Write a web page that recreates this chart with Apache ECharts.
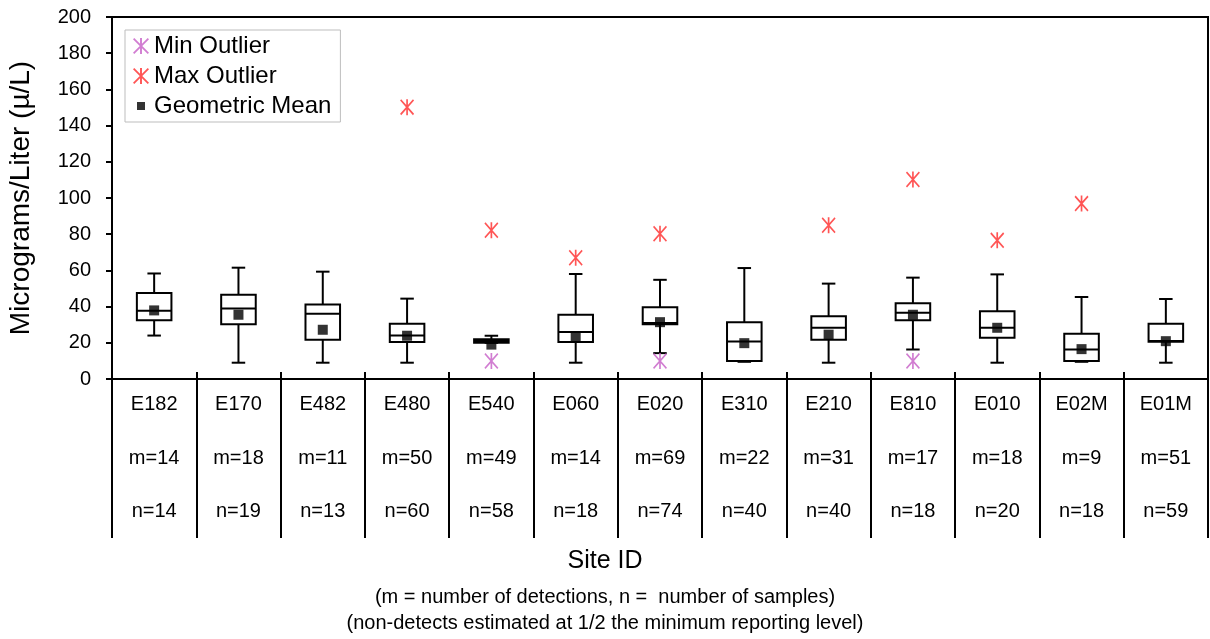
<!DOCTYPE html>
<html>
<head>
<meta charset="utf-8">
<script src="https://cdn.jsdelivr.net/npm/echarts@6/dist/echarts.min.js"></script>
<style>
html,body{margin:0;padding:0;background:#fff;}
#chart{width:1210px;height:639px;}
</style>
</head>
<body>
<div id="chart"></div>
<script>
// ---- data ----
var sites = ['E182','E170','E482','E480','E540','E060','E020','E310','E210','E810','E010','E02M','E01M'];
var detections = [14,18,11,50,49,14,69,22,31,17,18,9,51];
var samples = [14,19,13,60,58,18,74,40,40,18,20,18,59];
var whiskerLow  = [24, 9, 9, 9, 20, 9, 14.3, 9.5, 9, 16.3, 9, 9.5, 9];
var quartile1   = [32.4, 30.3, 21.7, 20.4, 20, 20.4, 30.3, 9.9, 21.7, 32.4, 22.8, 9.9, 20.6];
var medians     = [37.7, 39, 36.1, 24, 21, 25.9, 31, 20.7, 28.3, 36.6, 28.3, 16.3, 21];
var quartile3   = [47.5, 46.6, 41.2, 30.5, 22, 35.5, 39.7, 31.4, 34.6, 41.9, 37.5, 25, 30.5];
var whiskerHigh = [58.3, 61.5, 59.3, 44.4, 23.9, 58, 54.8, 61.3, 52.7, 56, 57.8, 45.3, 44.2];
var geoMean     = [37.9, 35.5, 27.2, 23.9, 19, 23.5, 31.4, 19.8, 24.5, 35.5, 28.3, 16.5, 20.9];
var maxOutlier  = [null, null, null, 150.2, 82.2, 67, 80.3, null, 84.9, 110.2, 76.6, 96.9, null];
var minOutlier  = [null, null, null, null, 9.9, null, 9.9, null, null, 9.9, null, null, null];
var yTicks = [0,20,40,60,80,100,120,140,160,180,200];

var FONT = '"Liberation Sans", Arial, sans-serif';
var ASTERISK = 'path://M44,0 L56,0 L56,100 L44,100 Z M0,8 L8,0 L100,92 L92,100 Z M92,0 L100,8 L8,100 L0,92 Z';
var SQUARE_ICON = 'path://M0,0 L0.01,0 L0,0.01 Z M25,25 L75,25 L75,75 L25,75 Z M100,100 L99.99,100 L100,99.99 Z';

var boxData = sites.map(function(s, i){
  return [i, whiskerLow[i], quartile1[i], medians[i], quartile3[i], whiskerHigh[i]];
});
function pts(arr){ var out=[]; arr.forEach(function(v,i){ if(v!==null) out.push([i,v]); }); return out; }

function renderBox(params, api){
  var i = api.value(0);
  var band = api.size([1,0])[0];
  var x = api.coord([i, 0])[0];
  var yLow = api.coord([i, api.value(1)])[1];
  var yQ1 = api.coord([i, api.value(2)])[1];
  var yMed = api.coord([i, api.value(3)])[1];
  var yQ3 = api.coord([i, api.value(4)])[1];
  var yHigh = api.coord([i, api.value(5)])[1];
  var hw = band * 0.205;
  var cw = band * 0.08;
  var st = {stroke:'#000', lineWidth:2, fill:null};
  return {
    type:'group',
    children:[
      {type:'line', shape:{x1:x,y1:yQ3,x2:x,y2:yHigh}, style:st},
      {type:'line', shape:{x1:x-cw,y1:yHigh,x2:x+cw,y2:yHigh}, style:st},
      {type:'line', shape:{x1:x,y1:yQ1,x2:x,y2:yLow}, style:st},
      {type:'line', shape:{x1:x-cw,y1:yLow,x2:x+cw,y2:yLow}, style:st},
      {type:'rect', shape:{x:x-hw,y:yQ3,width:hw*2,height:yQ1-yQ3}, style:{stroke:'#000',lineWidth:2,fill:'#fff'}},
      {type:'line', shape:{x1:x-hw,y1:yMed,x2:x+hw,y2:yMed}, style:st}
    ]
  };
}

var chart = echarts.init(document.getElementById('chart'));
chart.setOption({
  animation:false,
  backgroundColor:'#fff',
  textStyle:{fontFamily:FONT, color:'#000'},
  grid:{left:112, right:2, top:17, bottom:260, outerBoundsMode:'none', containLabel:false,
        show:true, borderColor:'#000', borderWidth:2, backgroundColor:'transparent'},
  title:{
    text:'Site ID',
    subtext:'(m = number of detections, n =  number of samples)\n(non-detects estimated at 1/2 the minimum reporting level)',
    left:'center', top:547, itemGap:9, padding:0,
    textStyle:{fontFamily:FONT, fontSize:25, fontWeight:'normal', color:'#000', lineHeight:28},
    subtextStyle:{fontFamily:FONT, fontSize:20, color:'#000', lineHeight:26}
  },
  legend:{
    orient:'vertical', left:125, top:30,
    padding:[3,9,3,8], itemGap:4, itemWidth:16, itemHeight:16,
    borderColor:'#bdbdbd', borderWidth:1, backgroundColor:'#fff',
    textStyle:{fontFamily:FONT, fontSize:24, color:'#000', lineHeight:26},
    data:[
      {name:'Min Outlier', icon:ASTERISK},
      {name:'Max Outlier', icon:ASTERISK},
      {name:'Geometric Mean', icon:SQUARE_ICON}
    ]
  },
  xAxis:[{
    type:'category', data:sites, position:'bottom',
    axisLine:{lineStyle:{color:'#000', width:2}},
    axisTick:{show:true, length:159, lineStyle:{color:'#000', width:2}},
    axisLabel:{
      fontFamily:FONT, fontSize:20, color:'#000', lineHeight:53.5, margin:-1, interval:0,
      formatter:function(v, idx){ return v + '\nm=' + detections[idx] + '\nn=' + samples[idx]; }
    },
    splitLine:{show:false}
  },{
    type:'category', data:sites, position:'bottom',
    axisLine:{show:false},
    axisTick:{show:true, inside:true, length:7, lineStyle:{color:'#000', width:2}},
    axisLabel:{show:false}, splitLine:{show:false}
  }],
  yAxis:{
    type:'value', min:yTicks[0], max:yTicks[yTicks.length-1], interval:20,
    name:'Micrograms/Liter (µ/L)', nameLocation:'middle', nameGap:77,
    nameTextStyle:{fontFamily:FONT, fontSize:28, color:'#000'},
    axisLine:{show:true, lineStyle:{color:'#000', width:2}},
    axisTick:{show:true, length:6, lineStyle:{color:'#000', width:2}},
    axisLabel:{fontFamily:FONT, fontSize:20, color:'#000', margin:21},
    splitLine:{show:false}
  },
  series:[
    {type:'custom', name:'box', renderItem:renderBox, data:boxData, encode:{x:0, y:[1,2,3,4,5]}, z:2, silent:true},
    {type:'scatter', name:'Geometric Mean', data:pts(geoMean), symbol:'rect', symbolSize:10, itemStyle:{color:'#000'}, z:5},
    {type:'scatter', name:'Max Outlier', data:pts(maxOutlier), symbol:ASTERISK, symbolSize:[14,16], itemStyle:{color:'#ff2a2a'}, z:5},
    {type:'scatter', name:'Min Outlier', data:pts(minOutlier), symbol:ASTERISK, symbolSize:[14,16], itemStyle:{color:'#c65cc6'}, z:5}
  ]
});
</script>
</body>
</html>
